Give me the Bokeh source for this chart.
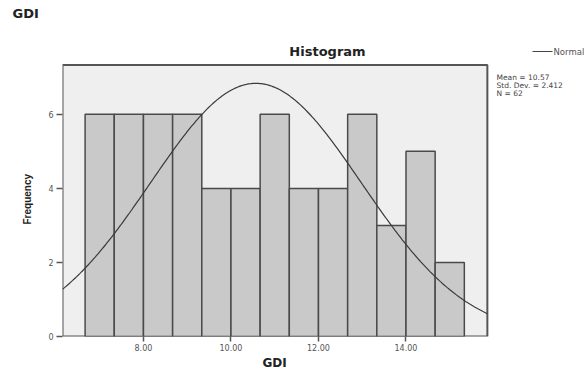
import numpy as np
from bokeh.plotting import figure
from bokeh.models import Range1d, Label, FixedTicker, Arrow, Title, BoxAnnotation
from bokeh.embed import file_html
from bokeh.resources import INLINE

# ---- data ----
bin_start = 6.6667
bin_width = 0.6667
counts = [6, 6, 6, 6, 4, 4, 6, 4, 4, 6, 3, 5, 2]
x_ticks = [8, 10, 12, 14]
x_tick_labels = ["8.00", "10.00", "12.00", "14.00"]
y_ticks = [0, 2, 4, 6]
mean_val = 10.57
sd_val = 2.412
n_val = 62

# plot-area (gray box) extent in data units
box_x = (6.15, 15.86)
box_y_top = 7.33

FONT = "Liberation Sans"
WFONT = "DejaVu Sans"
GRAY = "#555555"
W, H = 584, 369
FL, FT, FB = 62, 22, 340  # frame left, top, bottom (page px)

p = figure(width=W, height=H, output_backend="svg", toolbar_location=None,
           x_range=Range1d(box_x[0], 18.08), y_range=Range1d(0, 8.48),
           min_border_left=FL, min_border_right=0, min_border_top=FT,
           min_border_bottom=H - FB)
p.background_fill_color = "white"
p.border_fill_color = "white"
p.outline_line_color = None
p.grid.visible = False

p.add_layout(BoxAnnotation(left=box_x[0], right=box_x[1], bottom=0, top=box_y_top,
                           fill_color="#efefef", fill_alpha=1, line_color=GRAY,
                           line_width=2, line_alpha=1, level="underlay"))

lefts = [bin_start + i * bin_width for i in range(len(counts))]
rights = [l + bin_width for l in lefts]
p.quad(left=lefts, right=rights, bottom=0, top=counts,
       fill_color="#c9c9c9", line_color="#4a4a4a", line_width=1.5)

xs = np.linspace(box_x[0], box_x[1], 300)
ys = n_val * bin_width / (sd_val * np.sqrt(2 * np.pi)) * np.exp(-0.5 * ((xs - mean_val) / sd_val) ** 2)
p.line(xs, ys, line_color="#3a3a3a", line_width=1.2)

for ax in (p.xaxis[0], p.yaxis[0]):
    ax.axis_line_color = None
    ax.major_tick_line_color = GRAY
    ax.major_tick_line_width = 1.5
    ax.major_tick_in = 0
    ax.minor_tick_line_color = None
    ax.major_label_text_font = WFONT
    ax.major_label_text_font_size = "8px"
    ax.major_label_text_color = "#555555"

p.xaxis.ticker = FixedTicker(ticks=x_ticks)
p.xaxis.major_label_overrides = {t: l for t, l in zip(x_ticks, x_tick_labels)}
p.yaxis.ticker = FixedTicker(ticks=y_ticks)
p.xaxis.major_tick_out = 5
p.xaxis.major_label_standoff = 2
p.yaxis.major_tick_out = 6
p.yaxis.major_label_standoff = 3

TITLE_KW = dict(text_font_style="bold", text_color="#222222")
p.add_layout(Title(text="GDI", align="left", offset=12 - FL, standoff=4,
                   text_font=WFONT, text_font_size="13px", **TITLE_KW), "above")
p.add_layout(Title(text="Frequency", align="left", offset=FB - 228, standoff=26,
                   text_font=FONT, text_font_size="10px", **TITLE_KW), "left")
p.add_layout(Title(text="GDI", align="left", offset=262 - FL, standoff=0,
                   text_font=WFONT, text_font_size="12px", **TITLE_KW), "below")


def lab(px, py, text, **kw):
    """Label at page pixel (px, py); screen units are frame-relative."""
    opts = dict(text_font=WFONT, text_color="#444444", text_font_size="7.5px",
                text_baseline="middle")
    opts.update(kw)
    p.add_layout(Label(x=px - FL, y=FB - py, x_units="screen", y_units="screen",
                       text=text, **opts))


lab(327, 55, "Histogram", text_font_style="bold", text_font_size="13px",
    text_align="center", text_color="#222222")
lab(553, 55, "Normal", text_color="#555555", text_font_size="8.5px")
stats = ["Mean = %.2f" % mean_val, "Std. Dev. = %.3f" % sd_val, "N = %d" % n_val]
for i, s in enumerate(stats):
    lab(496, 81 + 8 * i, s)

p.add_layout(Arrow(x_start=532 - FL, y_start=FB - 55, x_end=552 - FL, y_end=FB - 55,
                   start_units="screen", end_units="screen", end=None,
                   line_color="#444444", line_width=1))

open("out.html", "w").write(file_html(p, INLINE))
